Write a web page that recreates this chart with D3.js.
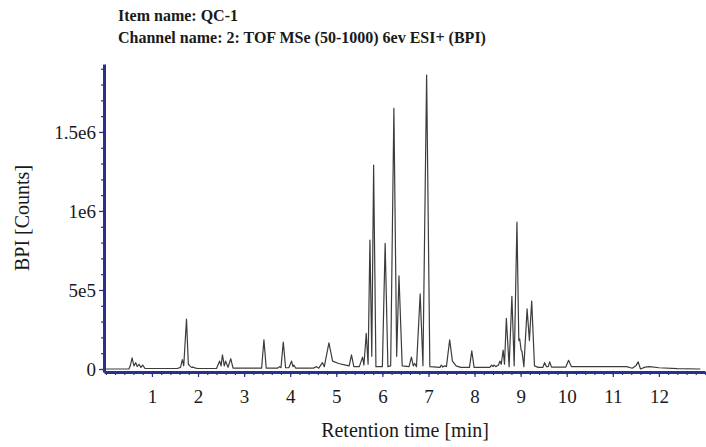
<!DOCTYPE html>
<html>
<head>
<meta charset="utf-8">
<script src="https://cdn.jsdelivr.net/npm/d3@7"></script>
<style>
  body { margin: 0; background: #fff; }
  #graf text { font-family: "Liberation Serif", "DejaVu Serif", serif; fill: #1a1a1a; }
</style>
</head>
<body>
<div id="graf"></div>
<script>
retentionTime = [
  0.00, 0.50, 0.53, 0.57, 0.61, 0.65, 0.68, 0.72, 0.76, 0.80, 0.85,
  1.55, 1.62, 1.66, 1.69, 1.75, 1.79, 1.82, 1.86, 1.89, 1.95, 2.00,
  2.40, 2.47, 2.50, 2.53, 2.57, 2.60, 2.65, 2.71, 2.76,
  3.38, 3.43, 3.48, 3.73, 3.77, 3.80, 3.85, 3.90, 3.97, 4.03, 4.06, 4.08, 4.12,
  4.50, 4.57, 4.62, 4.70, 4.74, 4.84, 4.92, 5.05, 5.20, 5.28, 5.33, 5.38,
  5.50, 5.57, 5.60, 5.65, 5.69, 5.73, 5.77, 5.81, 5.86,
  6.00, 6.06, 6.12, 6.18, 6.25, 6.31, 6.36, 6.43,
  6.58, 6.63, 6.67, 6.70, 6.74, 6.82, 6.88, 6.96, 7.03,
  7.25, 7.28, 7.31, 7.35, 7.39, 7.46, 7.52, 7.60, 7.70, 7.89, 7.94, 7.99,
  8.33, 8.37, 8.40, 8.42, 8.46, 8.52, 8.55, 8.58, 8.62, 8.65, 8.69, 8.75,
  8.81, 8.86, 8.92, 8.96, 8.98, 9.01, 9.03, 9.07, 9.14, 9.19, 9.24, 9.30,
  9.38, 9.48, 9.52, 9.56, 9.60, 9.63, 9.67, 9.98, 10.04, 10.10,
  11.30, 11.42, 11.50, 11.55, 11.60, 11.70, 11.80, 12.00, 12.40, 12.90
]
bpi = [
  0, 0, 20000, 70000, 20000, 40000, 15000, 30000, 10000, 25000, 3000,
  3000, 10000, 60000, 20000, 315000, 30000, 20000, 10000, 12000, 5000, 3000,
  3000, 50000, 20000, 90000, 20000, 50000, 10000, 65000, 5000,
  5000, 185000, 5000, 6000, 15000, 8000, 170000, 8000, 8000, 50000, 15000, 25000, 5000,
  5000, 15000, 5000, 40000, 15000, 165000, 50000, 35000, 25000, 20000, 90000, 15000,
  15000, 75000, 25000, 225000, 30000, 815000, 80000, 1290000, 15000,
  15000, 795000, 15000, 20000, 1650000, 80000, 590000, 20000,
  15000, 75000, 20000, 35000, 15000, 475000, 20000, 1860000, 15000,
  10000, 25000, 12000, 20000, 15000, 185000, 50000, 20000, 10000, 10000, 115000, 10000,
  10000, 25000, 15000, 25000, 15000, 25000, 50000, 30000, 120000, 30000, 320000, 15000,
  460000, 20000, 930000, 180000, 190000, 120000, 110000, 15000, 380000, 180000, 430000, 20000,
  10000, 10000, 40000, 15000, 15000, 45000, 12000, 12000, 55000, 15000,
  15000, 5000, 20000, 45000, 0, 12000, 15000, 8000, 2000, 0
]

xTickValues = [1, 2, 3, 4, 5, 6, 7, 8, 9, 10, 11, 12]
yTickValues = [0, 500000, 1000000, 1500000]
yTickLabels = ['0', '5e5', '1e6', '1.5e6']

titleLines = ['Item name: QC-1', 'Channel name: 2: TOF MSe (50-1000) 6ev ESI+ (BPI)']
xTitle = 'Retention time [min]'
yTitle = 'BPI [Counts]'

// II. Configuración
ancho_total = 706
alto_total = 447
azul = '#2b2f8c'

svg = d3.select('#graf').append('svg')
        .attr('width', ancho_total)
        .attr('height', alto_total)

x = d3.scaleLinear()
      .domain([-0.04, 13])
      .range([104, 705])
y = d3.scaleLinear()
      .domain([-19000, 1930000])
      .range([372, 64])

// III. Ejes
// ticks menores
svg.append('g')
   .attr('transform', `translate(0, ${ y.range()[0] })`)
   .call(d3.axisBottom(x).tickValues(d3.range(0, 13.01, 0.2)).tickSize(3).tickFormat(''))
   .call(g => g.select('.domain').remove())
svg.append('g')
   .attr('transform', `translate(${ x.range()[0] }, 0)`)
   .call(d3.axisLeft(y).tickValues(d3.range(0, 1900001, 100000)).tickSize(3).tickFormat(''))
   .call(g => g.select('.domain').remove())

xAxisGroup = svg.append('g')
   .attr('transform', `translate(0, ${ y.range()[0] })`)
   .call(d3.axisBottom(x).tickValues(xTickValues).tickSize(5).tickSizeOuter(0).tickPadding(13))
yAxisGroup = svg.append('g')
   .attr('transform', `translate(${ x.range()[0] }, 0)`)
   .call(d3.axisLeft(y).tickValues(yTickValues).tickSize(5).tickSizeOuter(0).tickPadding(3)
          .tickFormat((d, i) => yTickLabels[i]))

svg.selectAll('.tick line').attr('stroke', azul).attr('stroke-width', 1.2)
svg.selectAll('.tick text').style('font-size', '19px')
svg.selectAll('.domain').attr('stroke', azul).attr('stroke-width', 3)

// IV. Traza
linea = d3.line()
          .x((d, i) => x(retentionTime[i]))
          .y(d => y(d))

svg.append('path')
   .datum(bpi)
   .attr('d', linea)
   .attr('fill', 'none')
   .attr('stroke', '#3c3c3c')
   .attr('stroke-width', 1.2)
   .attr('stroke-linejoin', 'round')

// redibujar dominios encima de la traza
svg.node().appendChild(xAxisGroup.node())
svg.node().appendChild(yAxisGroup.node())

// V. Textos
svg.append('g').selectAll('text')
   .data(titleLines)
   .join('text')
   .attr('x', 118)
   .attr('y', (d, i) => 21 + i * 22)
   .style('font-size', '16px')
   .style('font-weight', 'bold')
   .text(d => d)

svg.append('text')
   .attr('x', 405)
   .attr('y', 437)
   .attr('text-anchor', 'middle')
   .style('font-size', '20px')
   .text(xTitle)

svg.append('text')
   .attr('transform', 'translate(29, 218) rotate(-90)')
   .attr('text-anchor', 'middle')
   .style('font-size', '20px')
   .text(yTitle)
</script>
</body>
</html>
